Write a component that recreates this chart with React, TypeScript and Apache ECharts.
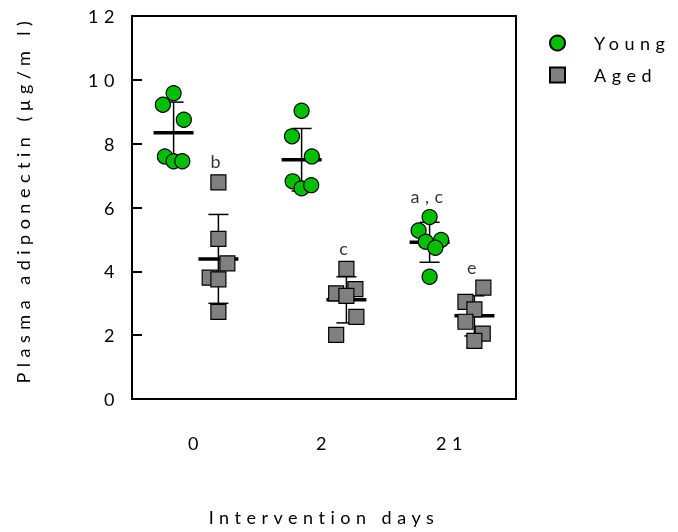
import React, { useEffect, useRef } from "react";
import * as echarts from "echarts";

const categories = ["0", "2", "21"];
const yTicks = [0, 2, 4, 6, 8, 10, 12];

const youngValues = [
  [9.58, 9.22, 8.75, 7.6, 7.45, 7.45],
  [9.03, 8.23, 7.6, 6.82, 6.6, 6.7],
  [5.7, 5.28, 4.93, 4.98, 4.74, 3.83],
];
const agedValues = [
  [6.79, 5.02, 4.25, 3.8, 3.75, 2.73],
  [4.08, 3.44, 3.31, 3.23, 2.57, 2.01],
  [3.49, 3.04, 2.81, 2.42, 2.05, 1.82],
];
// horizontal scatter of each point inside its group (category units)
const youngJitter = [
  [0, -0.084, 0.08, -0.068, 0, 0.068],
  [0, -0.075, 0.08, -0.07, 0, 0.075],
  [0, -0.086, -0.03, 0.09, 0.045, 0],
];
const agedJitter = [
  [0, 0, 0.07, -0.068, 0, 0],
  [0, 0.07, -0.08, 0, 0.078, -0.08],
  [0.07, -0.07, 0, -0.07, 0.065, 0],
];
const annotations = [
  { group: "Aged", cat: 0, text: "b" },
  { group: "Aged", cat: 1, text: "c" },
  { group: "Young", cat: 2, text: "a,c" },
  { group: "Aged", cat: 2, text: "e" },
];

const GROUP_OFFSET = 0.175;
const FONT = "Lato";

function mean(a: number[]) {
  return a.reduce((s, v) => s + v, 0) / a.length;
}
function sd(a: number[]) {
  const m = mean(a);
  return Math.sqrt(a.reduce((s, v) => s + (v - m) * (v - m), 0) / (a.length - 1));
}

export default function App() {
  const ref = useRef<HTMLDivElement>(null);
  useEffect(() => {
    if (!ref.current) return;
    const chart = echarts.init(ref.current, null, { renderer: "svg" });

    const pts = (vals: number[][], jit: number[][], off: number) =>
      vals.flatMap((g, ci) => g.map((v, i) => [ci + off + jit[ci][i], v]));
    const stats = (vals: number[][], off: number) =>
      vals.map((g, ci) => [ci + off, mean(g), sd(g)]);

    const errData = [
      ...stats(youngValues, -GROUP_OFFSET),
      ...stats(agedValues, GROUP_OFFSET),
    ];

    const labelData = annotations.map((a) => {
      const vals = a.group === "Young" ? youngValues : agedValues;
      const off = a.group === "Young" ? -GROUP_OFFSET : GROUP_OFFSET;
      return { name: a.text, value: [a.cat + off, Math.max(...vals[a.cat])] };
    });

    const textStyle = { fontFamily: FONT, fontSize: 18, color: "#000" };

    chart.setOption({
      animation: false,
      grid: {
        left: 132,
        right: 162,
        top: 16,
        bottom: 133,
        show: true,
        borderColor: "#000",
        borderWidth: 2,
        backgroundColor: "transparent",
      },
      legend: {
        orient: "vertical",
        left: 544,
        top: 29,
        itemWidth: 15,
        itemHeight: 15,
        itemGap: 14,
        data: [
          { name: "Young", icon: "circle" },
          { name: "Aged", icon: "rect" },
        ],
        textStyle: { ...textStyle, padding: [0, 0, 0, 24], lineHeight: 15 },
      },
      xAxis: {
        type: "value",
        min: -0.5,
        max: 2.5,
        interval: 0.5,
        splitLine: { show: false },
        axisTick: { show: false },
        axisLine: { show: true, onZero: false, lineStyle: { color: "#000", width: 2 } },
        axisLabel: {
          ...textStyle,
          margin: 35,
          formatter: (v: number) => {
            const i = Math.round(v);
            return Math.abs(v - i) < 1e-6 && i >= 0 && i < categories.length ? categories[i] : "";
          },
        },
        name: "Intervention days",
        nameLocation: "middle",
        nameGap: 109,
        nameTextStyle: textStyle,
      },
      yAxis: {
        type: "value",
        min: yTicks[0],
        max: yTicks[yTicks.length - 1],
        interval: yTicks[1] - yTicks[0],
        splitLine: { show: false },
        axisLine: { show: true, onZero: false, lineStyle: { color: "#000", width: 2 } },
        axisTick: { show: true, inside: true, length: 10, lineStyle: { color: "#000", width: 2 } },
        axisLabel: { ...textStyle, margin: 12 },
        name: "Plasma adiponectin (µg/m l)",
        nameLocation: "middle",
        nameGap: 100,
        nameTextStyle: { ...textStyle, padding: [0, 0, 0, 16] },
      },
      series: [
        {
          type: "custom",
          name: "errors",
          z: 1,
          silent: true,
          data: errData,
          encode: { x: 0, y: 1 },
          renderItem: (params: any, api: any) => {
            const x = api.value(0);
            const m = api.value(1);
            const s = api.value(2);
            const c = api.coord([x, m]);
            const t = api.coord([x, m + s]);
            const b = api.coord([x, m - s]);
            const thin = { stroke: "#000", lineWidth: 1.5 };
            return {
              type: "group",
              children: [
                { type: "line", shape: { x1: c[0], y1: t[1], x2: c[0], y2: b[1] }, style: thin },
                { type: "line", shape: { x1: c[0] - 10, y1: t[1], x2: c[0] + 10, y2: t[1] }, style: thin },
                { type: "line", shape: { x1: c[0] - 10, y1: b[1], x2: c[0] + 10, y2: b[1] }, style: thin },
                {
                  type: "line",
                  shape: { x1: c[0] - 20, y1: c[1], x2: c[0] + 20, y2: c[1] },
                  style: { stroke: "#000", lineWidth: 3.5 },
                },
              ],
            };
          },
        },
        {
          type: "scatter",
          name: "Young",
          z: 3,
          symbol: "circle",
          symbolSize: 15,
          itemStyle: { color: "#00bf00", borderColor: "#000", borderWidth: 1.2, opacity: 1 },
          data: pts(youngValues, youngJitter, -GROUP_OFFSET),
        },
        {
          type: "scatter",
          name: "Aged",
          z: 3,
          symbol: "rect",
          symbolSize: 15,
          itemStyle: { color: "#808080", borderColor: "#000", borderWidth: 1.2, opacity: 1 },
          data: pts(agedValues, agedJitter, GROUP_OFFSET),
        },
        {
          type: "scatter",
          name: "annotations",
          z: 4,
          silent: true,
          symbolSize: 0,
          data: labelData,
          label: {
            show: true,
            position: "top",
            distance: 12,
            formatter: (p: any) => p.name,
            ...textStyle,
          },
        },
      ],
    });
    return () => chart.dispose();
  }, []);

  return (
    <>
      <style>{`#chart text { letter-spacing: 5.5px; }`}</style>
      <div
        id="chart"
        ref={ref}
        style={{ position: "fixed", left: 0, top: 0, width: 678, height: 532 }}
      />
    </>
  );
}
